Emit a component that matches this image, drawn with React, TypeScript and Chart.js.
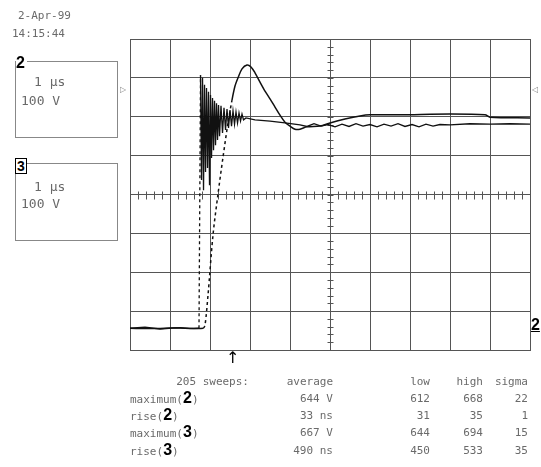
import React, { useEffect, useRef } from 'react';
import { Chart, registerables } from 'chart.js';
Chart.register(...registerables);

// ---- data (time in µs, voltage in V) ----
const CH2_TIME_US = [
  0, 0.375, 0.75, 1.125, 1.5, 1.725, 1.763,
  1.788, 1.813, 1.838, 1.863, 1.888, 1.913, 1.938, 1.963, 1.988, 2.013,
  2.038, 2.063, 2.088, 2.113, 2.138, 2.163, 2.188, 2.213, 2.238, 2.275,
  2.313, 2.35, 2.388, 2.425, 2.463, 2.5, 2.538, 2.575, 2.613, 2.65,
  2.688, 2.725, 2.763, 2.8, 2.838, 2.9, 3.125, 3.5, 3.875, 4.25,
  4.425, 4.6, 4.775, 4.95, 5.125, 5.3, 5.475, 5.65, 5.825, 6.0,
  6.175, 6.35, 6.525, 6.7, 6.875, 7.05, 7.225, 7.4, 7.575, 7.75,
  8.0, 8.5, 9.0, 9.5, 10.0,
];
const CH2_VOLTS = [
  0, 3, -2, 1, -1, 0, 651,
  381, 644, 355, 626, 402, 618, 412, 608, 368, 600,
  438, 592, 458, 585, 471, 579, 484, 574, 494, 572,
  502, 567, 510, 564, 515, 561, 520, 559, 525, 556,
  528, 554, 533, 551, 536, 541, 536, 533, 528, 523,
  519, 526, 520, 524, 518, 525, 519, 526, 520, 524,
  518, 525, 520, 526, 519, 524, 518, 525, 520, 524,
  523, 526, 525, 526, 525,
];
const CH3_TIME_US = [
  0, 0.5, 1.25, 1.825, 1.875, 1.95, 2.075, 2.2, 2.325, 2.45, 2.55, 2.625,
  2.7, 2.8, 2.925, 3.025, 3.125, 3.25, 3.375, 3.5, 3.625, 3.75, 3.875,
  4.0, 4.125, 4.25, 4.425, 4.75, 5.0, 5.375, 5.75, 6.0, 6.75, 8.0, 8.875,
  9.0, 10.0,
];
const CH3_VOLTS = [
  0, -1, 1, 0, 8, 85, 240, 345, 440, 528, 587, 623,
  644, 667, 677, 672, 657, 633, 610, 590, 569, 548, 530,
  520, 512, 512, 518, 520, 528, 538, 546, 549, 549, 551, 549,
  543, 541,
];

const CH2_DASH_RANGE_US = [1.72, 1.77];
const CH3_DASH_RANGE_US = [1.8, 2.56];

const X_MIN = 0;
const X_MAX = 10;
const Y_MIN = -56;
const VOLTS_PER_DIV = 100;
const Y_DIVS = 8;
const Y_MAX = Y_MIN + Y_DIVS * VOLTS_PER_DIV;

// ---- text ----
const DATE_TEXT = '2-Apr-99';
const TIME_TEXT = '14:15:44';
const CH_TIMEBASE = '1 µs';
const CH_VOLTSCALE = '100 V';
const STATS_HEADER = ['205 sweeps:', 'average', 'low', 'high', 'sigma'];
const STATS_LABEL_PREFIX = ['maximum(', 'rise(', 'maximum(', 'rise('];
const STATS_CHANNEL = ['2', '2', '3', '3'];
const STATS_AVERAGE = ['644 V', '33 ns', '667 V', '490 ns'];
const STATS_LOW = ['612', '31', '644', '450'];
const STATS_HIGH = ['668', '35', '694', '533'];
const STATS_SIGMA = ['22', '1', '15', '35'];

const GRID_COLOR = '#555';
const TRACE_COLOR = '#111';
const TEXT_COLOR = '#6a6a6a';
const MONO = '"DejaVu Sans Mono", "Liberation Mono", monospace';
const BOLD = '"Liberation Sans", "DejaVu Sans", sans-serif';

const centerTicks = {
  id: 'centerTicks',
  beforeDatasetsDraw(chart: any) {
    const { ctx, scales } = chart;
    const x = scales.x;
    const y = scales.y;
    const cy = Math.round(y.getPixelForValue(Y_MIN + 4 * VOLTS_PER_DIV)) + 0.5;
    const cx = Math.round(x.getPixelForValue((X_MIN + X_MAX) / 2)) + 0.5;
    ctx.save();
    ctx.strokeStyle = GRID_COLOR;
    ctx.lineWidth = 1;
    ctx.beginPath();
    for (let i = 0; i <= (X_MAX - X_MIN) * 5; i++) {
      const px = Math.round(x.getPixelForValue(X_MIN + i * 0.2)) + 0.5;
      ctx.moveTo(px, cy - 4);
      ctx.lineTo(px, cy + 4);
    }
    for (let i = 0; i <= Y_DIVS * 5; i++) {
      const py = Math.round(y.getPixelForValue(Y_MIN + i * VOLTS_PER_DIV / 5)) + 0.5;
      ctx.moveTo(cx - 3, py);
      ctx.lineTo(cx + 3, py);
    }
    ctx.stroke();
    ctx.restore();
  },
};

const txt = (left: number, cy: number, size: number, extra: any = {}) => ({
  position: 'absolute' as const,
  left,
  top: cy,
  transform: 'translateY(-50%)',
  fontFamily: MONO,
  fontSize: size,
  lineHeight: 1,
  color: TEXT_COLOR,
  whiteSpace: 'pre' as const,
  ...extra,
});

const rtxt = (right: number, cy: number, size: number) => ({
  position: 'absolute' as const,
  right: 541 - right,
  top: cy,
  transform: 'translateY(-50%)',
  fontFamily: MONO,
  fontSize: size,
  lineHeight: 1,
  color: TEXT_COLOR,
  whiteSpace: 'pre' as const,
});

export default function App() {
  const ref = useRef<HTMLCanvasElement>(null);
  useEffect(() => {
    if (!ref.current) return;
    const inRange = (c: any, r: number[]) =>
      c.p0.parsed.x >= r[0] && c.p1.parsed.x <= r[1] ? [3, 3] : undefined;
    const chart = new Chart(ref.current, {
      type: 'line',
      data: {
        datasets: [
          {
            label: 'ch3',
            data: CH3_TIME_US.map((t, i) => ({ x: t, y: CH3_VOLTS[i] })),
            borderColor: TRACE_COLOR,
            borderWidth: 1.5,
            pointRadius: 0,
            tension: 0.3,
            segment: { borderDash: (c: any) => inRange(c, CH3_DASH_RANGE_US) },
          },
          {
            label: 'ch2',
            data: CH2_TIME_US.map((t, i) => ({ x: t, y: CH2_VOLTS[i] })),
            borderColor: TRACE_COLOR,
            borderWidth: 1.3,
            pointRadius: 0,
            tension: 0,
            segment: { borderDash: (c: any) => inRange(c, CH2_DASH_RANGE_US) },
          },
        ],
      },
      options: {
        animation: false,
        responsive: false,
        maintainAspectRatio: false,
        devicePixelRatio: 1,
        layout: { padding: { left: 130, top: 39, right: 11, bottom: 117 } },
        plugins: { legend: { display: false }, tooltip: { enabled: false } },
        scales: {
          x: {
            type: 'linear',
            min: X_MIN,
            max: X_MAX,
            ticks: { display: false, stepSize: 1 },
            grid: { color: GRID_COLOR, lineWidth: 1, drawTicks: false },
            border: { display: true, color: GRID_COLOR },
          },
          y: {
            type: 'linear',
            min: Y_MIN,
            max: Y_MAX,
            afterBuildTicks: (scale: any) => {
              scale.ticks = Array.from({ length: Y_DIVS + 1 }, (_, i) => ({
                value: Y_MIN + i * VOLTS_PER_DIV,
              }));
            },
            ticks: { display: false },
            grid: { color: GRID_COLOR, lineWidth: 1, drawTicks: false },
            border: { display: true, color: GRID_COLOR },
          },
        },
      },
      plugins: [centerTicks],
    });
    return () => chart.destroy();
  }, []);

  const rowsY = [398, 415, 432, 450];
  const colRight = [333, 430, 483, 528];

  return (
    <div style={{ position: 'absolute', left: 0, top: 0, width: 541, height: 467, background: '#fff', overflow: 'hidden' }}>
      <canvas ref={ref} width={541} height={467} style={{ position: 'absolute', left: 0, top: 0, width: 541, height: 467 }} />
      <div style={txt(18, 15, 11)}>{DATE_TEXT}</div>
      <div style={txt(12, 33, 11)}>{TIME_TEXT}</div>

      <div style={{ position: 'absolute', left: 15, top: 61, width: 101, height: 75, border: '1px solid #888' }} />
      <div style={txt(16, 63, 16, { fontFamily: BOLD, fontWeight: 'bold', color: '#000', background: '#fff', paddingRight: 2 })}>2</div>
      <div style={txt(34, 81, 13)}>{CH_TIMEBASE}</div>
      <div style={txt(21, 100, 13)}>{CH_VOLTSCALE}</div>

      <div style={{ position: 'absolute', left: 15, top: 163, width: 101, height: 76, border: '1px solid #888' }} />
      <div style={txt(15, 166, 14, { fontFamily: BOLD, fontWeight: 'bold', color: '#000', background: '#fff', border: '1.5px solid #000', padding: '0 1px' })}>3</div>
      <div style={txt(34, 186, 13)}>{CH_TIMEBASE}</div>
      <div style={txt(21, 203, 13)}>{CH_VOLTSCALE}</div>

      <div style={txt(120, 90, 8, { fontFamily: 'DejaVu Sans', color: '#888' })}>▷</div>
      <div style={txt(532, 90, 8, { fontFamily: 'DejaVu Sans', color: '#888' })}>◁</div>
      <div style={txt(531, 325, 16, { fontFamily: BOLD, fontWeight: 'bold', color: '#000', textDecoration: 'underline' })}>2</div>
      <div style={txt(226, 358, 16, { fontFamily: 'DejaVu Sans', color: '#000' })}>↑</div>

      <div style={rtxt(249, 381, 11)}>{STATS_HEADER[0]}</div>
      {STATS_HEADER.slice(1).map((h, i) => (
        <div key={h} style={rtxt(colRight[i], 381, 11)}>{h}</div>
      ))}
      {STATS_LABEL_PREFIX.map((p, r) => (
        <div key={'l' + r} style={txt(130, rowsY[r], 11)}>
          {p}
          <span style={{ fontFamily: BOLD, fontWeight: 'bold', fontSize: 16, color: '#000' }}>{STATS_CHANNEL[r]}</span>
          {')'}
        </div>
      ))}
      {[STATS_AVERAGE, STATS_LOW, STATS_HIGH, STATS_SIGMA].map((col, c) =>
        col.map((v, r) => (
          <div key={c + '-' + r} style={rtxt(colRight[c], rowsY[r], 11)}>{v}</div>
        ))
      )}
    </div>
  );
}
